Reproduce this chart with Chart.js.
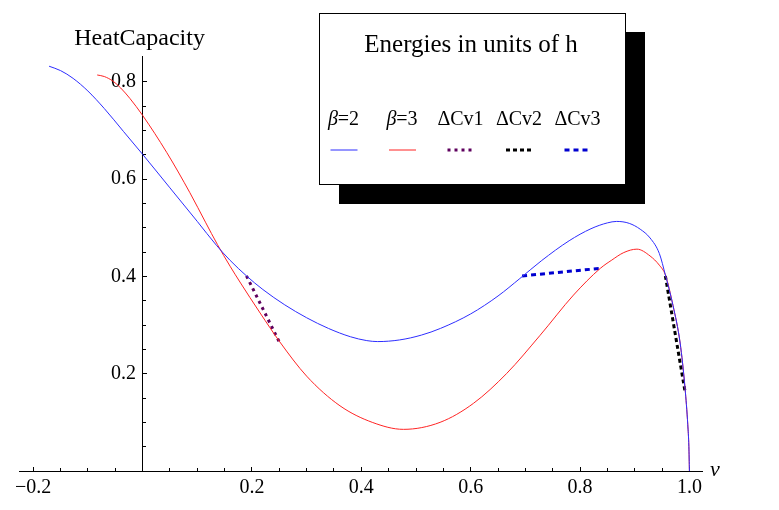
<!DOCTYPE html>
<html><head><meta charset="utf-8">
<script src="https://cdn.jsdelivr.net/npm/chart.js@4/dist/chart.umd.min.js"></script>
<style>html,body{margin:0;padding:0;background:#fff}</style>
</head><body>
<canvas id="c" width="779" height="510"></canvas>
<script>
// ---- data ----
const betaTwoX = [-0.171, -0.15, -0.127, -0.10, -0.07, -0.035, 0, 0.05, 0.10, 0.135, 0.16, 0.19, 0.22, 0.26, 0.30, 0.34, 0.38, 0.41, 0.43, 0.47, 0.51, 0.545, 0.60, 0.65, 0.69, 0.73, 0.78, 0.82, 0.85, 0.867, 0.89, 0.91, 0.928, 0.945, 0.956, 0.97, 0.983, 0.992, 0.997, 0.999, 1.0];
const betaTwoY = [0.832, 0.823, 0.807, 0.781, 0.745, 0.698, 0.651, 0.582, 0.513, 0.464, 0.433, 0.401, 0.373, 0.3415, 0.315, 0.293, 0.276, 0.268, 0.266, 0.2694, 0.2794, 0.2932, 0.3229, 0.3597, 0.3957, 0.4327, 0.4732, 0.498, 0.510, 0.513, 0.509, 0.497, 0.479, 0.447, 0.403, 0.34, 0.263, 0.17, 0.095, 0.05, 0.0];
const betaThreeX = [-0.083, -0.07, -0.054, -0.04, -0.023, 0, 0.044, 0.0865, 0.115, 0.137, 0.16, 0.178, 0.215, 0.251, 0.30, 0.361, 0.42, 0.477, 0.544, 0.605, 0.666, 0.727, 0.788, 0.837, 0.858, 0.88, 0.904, 0.928, 0.945, 0.956, 0.97, 0.983, 0.992, 0.997, 0.999, 1.0];
const betaThreeY = [0.814, 0.8108, 0.8012, 0.7872, 0.7655, 0.731, 0.655, 0.572, 0.5114, 0.4652, 0.4209, 0.3885, 0.3247, 0.2653, 0.195, 0.134, 0.100, 0.0856, 0.100, 0.139, 0.2007, 0.279, 0.3616, 0.4165, 0.4335, 0.449, 0.456, 0.442, 0.423, 0.403, 0.34, 0.263, 0.17, 0.095, 0.05, 0.0];
const deltaCv1X = [0.190, 0.251];
const deltaCv1Y = [0.401, 0.263];
const deltaCv2X = [0.956, 0.992];
const deltaCv2Y = [0.401, 0.163];
const deltaCv3X = [0.694, 0.837];
const deltaCv3Y = [0.401, 0.4165];
const seriesNames = ['β=2', 'β=3', 'ΔCv1', 'ΔCv2', 'ΔCv3'];
const xMajorTicks = [-0.2, 0, 0.2, 0.4, 0.6, 0.8, 1.0];
const xMinorTicks = [-0.2, -0.15, -0.1, -0.05, 0, 0.05, 0.1, 0.15, 0.2, 0.25, 0.3, 0.35, 0.4, 0.45, 0.5, 0.55, 0.6, 0.65, 0.7, 0.75, 0.8, 0.85, 0.9, 0.95, 1.0];
const yMajorTicks = [0, 0.2, 0.4, 0.6, 0.8];
const yMinorTicks = [0.05, 0.1, 0.15, 0.2, 0.25, 0.3, 0.35, 0.4, 0.45, 0.5, 0.55, 0.6, 0.65, 0.7, 0.75, 0.8];
const yAxisTitle = 'HeatCapacity';
const xAxisTitle = 'ν';
const legendTitle = 'Energies in units of h';

const pts = (xs, ys) => xs.map((x, i) => ({x: x, y: ys[i]}));
const SERIF = "'Liberation Serif', 'Times New Roman', serif";

const fmt = v => {
  if (Math.abs(v) < 1e-9) return '';
  const s = Math.abs(v).toFixed(1);
  return v < 0 ? '\u2212' + s : s;
};

const axisTitles = {
  id: 'axisTitles',
  afterDraw(chart) {
    const ctx = chart.ctx, xs = chart.scales.x, ys = chart.scales.y;
    ctx.save();
    ctx.fillStyle = '#000';
    ctx.font = '24px ' + SERIF;
    ctx.textAlign = 'center';
    ctx.textBaseline = 'middle';
    ctx.fillText(yAxisTitle, xs.getPixelForValue(0) - 3, 39);
    ctx.font = 'italic 22px ' + SERIF;
    ctx.textAlign = 'left';
    ctx.fillText(xAxisTitle, chart.chartArea.right + 8, ys.getPixelForValue(0) - 1);
    ctx.restore();
  }
};

const boxLegend = {
  id: 'boxLegend',
  afterDraw(chart) {
    const ctx = chart.ctx;
    const L = 319, T = 13, W = 306, H = 171;
    ctx.save();
    ctx.fillStyle = '#000';
    ctx.fillRect(L + 20, T + 19, W, H + 1);
    ctx.fillStyle = '#fff';
    ctx.fillRect(L, T, W, H);
    ctx.strokeStyle = '#000';
    ctx.lineWidth = 1;
    ctx.strokeRect(L + 0.5, T + 0.5, W, H);
    ctx.fillStyle = '#000';
    ctx.textBaseline = 'middle';
    ctx.textAlign = 'center';
    ctx.font = '25px ' + SERIF;
    ctx.fillText(legendTitle, L + W / 2 - 1, 45);
    const step = 58.5, x0 = 343.5;
    chart.data.datasets.forEach((ds, i) => {
      const cx = x0 + i * step;
      const name = seriesNames[i];
      ctx.fillStyle = '#000';
      if (name.startsWith('β')) {
        ctx.font = 'italic 20px ' + SERIF;
        const w1 = ctx.measureText('β').width;
        ctx.font = '20px ' + SERIF;
        const rest = name.slice(1);
        const w2 = ctx.measureText(rest).width;
        const sx = cx - (w1 + w2) / 2;
        ctx.textAlign = 'left';
        ctx.font = 'italic 20px ' + SERIF;
        ctx.fillText('β', sx, 120);
        ctx.font = '20px ' + SERIF;
        ctx.fillText(rest, sx + w1, 120);
      } else {
        ctx.textAlign = 'center';
        ctx.font = '20px ' + SERIF;
        ctx.fillText(name, cx, 120);
      }
      ctx.strokeStyle = ds.borderColor;
      ctx.lineWidth = ds.borderWidth;
      ctx.setLineDash(ds.borderDash || []);
      ctx.beginPath();
      ctx.moveTo(cx - 13, 150);
      ctx.lineTo(cx + 14, 150);
      ctx.stroke();
    });
    ctx.restore();
  }
};

const lineDs = (label, data, color, width, dash, smooth) => ({
  label, data, borderColor: color, backgroundColor: color, borderWidth: width,
  borderDash: dash, showLine: true, pointRadius: 0, fill: false,
  cubicInterpolationMode: smooth ? 'monotone' : 'default', tension: 0
});

new Chart(document.getElementById('c'), {
  type: 'scatter',
  data: {
    datasets: [
      lineDs(seriesNames[0], pts(betaTwoX, betaTwoY), 'rgb(45,45,255)', 1, [], true),
      lineDs(seriesNames[1], pts(betaThreeX, betaThreeY), 'rgb(255,35,35)', 1, [], true),
      lineDs(seriesNames[2], pts(deltaCv1X, deltaCv1Y), '#5e005e', 3, [3, 4], false),
      lineDs(seriesNames[3], pts(deltaCv2X, deltaCv2Y), '#000000', 3, [4, 3], false),
      lineDs(seriesNames[4], pts(deltaCv3X, deltaCv3Y), '#0000d0', 3, [5, 4], false)
    ]
  },
  options: {
    responsive: false,
    animation: false,
    devicePixelRatio: 1,
    layout: {padding: {left: 19, right: 77, top: 56, bottom: 39}},
    plugins: {legend: {display: false}, tooltip: {enabled: false}, title: {display: false}},
    scales: {
      x: {
        type: 'linear', min: -0.226, max: 1.023, position: {y: 0},
        afterBuildTicks: s => { s.ticks = xMajorTicks.map(v => ({value: v})); },
        ticks: {callback: v => fmt(v), color: '#000', font: {family: SERIF, size: 20}, padding: 10, maxRotation: 0, autoSkip: false},
        grid: {drawOnChartArea: false, tickLength: -5, tickColor: '#000', tickWidth: 1},
        border: {color: '#000', width: 1}
      },
      xMinor: {
        type: 'linear', axis: 'x', min: -0.226, max: 1.023, position: {y: 0},
        afterBuildTicks: s => { s.ticks = xMinorTicks.map(v => ({value: v})); },
        ticks: {display: false},
        grid: {drawOnChartArea: false, tickLength: -3, tickColor: '#000', tickWidth: 1},
        border: {display: false}
      },
      y: {
        type: 'linear', min: 0, max: 0.853, position: {x: 0},
        afterBuildTicks: s => { s.ticks = yMajorTicks.map(v => ({value: v})); },
        ticks: {callback: v => { const t = fmt(v); return t ? t + ' \u200A' : ''; }, color: '#000', font: {family: SERIF, size: 20}, padding: 0, autoSkip: false},
        grid: {drawOnChartArea: false, tickLength: -5, tickColor: '#000', tickWidth: 1},
        border: {color: '#000', width: 1}
      },
      yMinor: {
        type: 'linear', axis: 'y', min: 0, max: 0.853, position: {x: 0},
        afterBuildTicks: s => { s.ticks = yMinorTicks.map(v => ({value: v})); },
        ticks: {display: false},
        grid: {drawOnChartArea: false, tickLength: -3, tickColor: '#000', tickWidth: 1},
        border: {display: false}
      }
    }
  },
  plugins: [axisTitles, boxLegend]
});
</script>
</body></html>
